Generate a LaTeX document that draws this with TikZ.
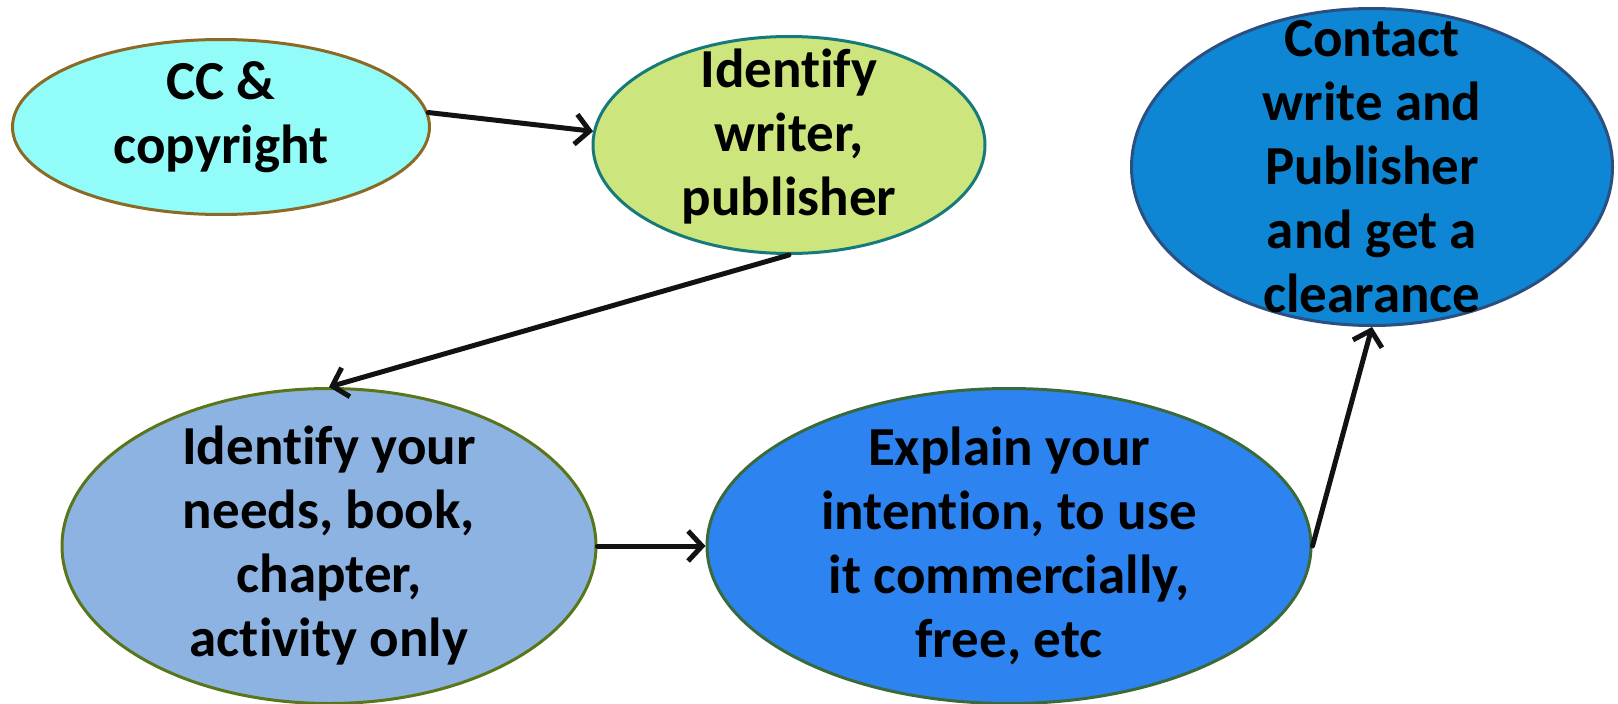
\documentclass[tikz,border=0pt]{standalone}
\usepackage{fontspec}
\setmainfont[Ligatures={NoCommon}]{Carlito}
\usetikzlibrary{shapes.geometric,arrows.meta}

\definecolor{cyanfill}{HTML}{92FCF9}
\definecolor{cyanline}{HTML}{8A6A25}
\definecolor{limefill}{HTML}{CDE57D}
\definecolor{limeline}{HTML}{16797A}
\definecolor{deepfill}{HTML}{0E86D4}
\definecolor{deepline}{HTML}{2A4F80}
\definecolor{paleblue}{HTML}{8DB3E2}
\definecolor{paleline}{HTML}{5A761A}
\definecolor{brightblue}{HTML}{2D84F0}
\definecolor{brightline}{HTML}{3A6A3A}

\tikzset{
  bubble/.style={ellipse, draw, line width=3pt, inner sep=0pt},
  label text/.style={align=center, inner sep=0pt,
    font=\fontsize{55}{64}\selectfont\bfseries},
  flow/.style={line width=5pt, draw={black!93}, line cap=round,
    -{Straight Barb[length=14pt,width=30pt,line width=5pt]}}
}

\begin{document}
\begin{tikzpicture}[x=1pt,y=-1pt]
  \useasboundingbox (0,0) rectangle (1618,704);

  % ellipses
  \node[bubble, fill=cyanfill, draw=cyanline,
        minimum width=417pt, minimum height=175pt] (e1) at (221,127) {};
  \node[bubble, fill=limefill, draw=limeline,
        minimum width=392pt, minimum height=217pt] (e2) at (789,145) {};
  \node[bubble, fill=deepfill, draw=deepline,
        minimum width=481pt, minimum height=317pt] (e3) at (1372,167) {};
  \node[bubble, fill=paleblue, draw=paleline,
        minimum width=534pt, minimum height=315pt] (e4) at (329,546) {};
  \node[bubble, fill=brightblue, draw=brightline,
        minimum width=604pt, minimum height=315pt] (e5) at (1009,546) {};

  % texts
  \node[label text] (t1) at ([yshift=10pt]e1.center) {CC \&\\copyright};
  \node[label text] (t2) at ([yshift=8pt]e2.center) {Identify\\writer,\\publisher};
  \node[label text] (t3) at (e3.center) {Contact\\write and\\Publisher\\and get a\\clearance};
  \node[label text] (t4) at (e4.center) {Identify your\\needs, book,\\chapter,\\activity only};
  \node[label text] (t5) at (e5.center) {Explain your\\intention, to use\\it commercially,\\free, etc};

  % connectors
  \draw[flow] (e1.4) -- (e2.176);
  \draw[flow] (e2.south) -- (e4.north);
  \draw[flow] (e4.east) -- (e5.west);
  \draw[flow] (e5.east) -- (e3.south);
\end{tikzpicture}
\end{document}
